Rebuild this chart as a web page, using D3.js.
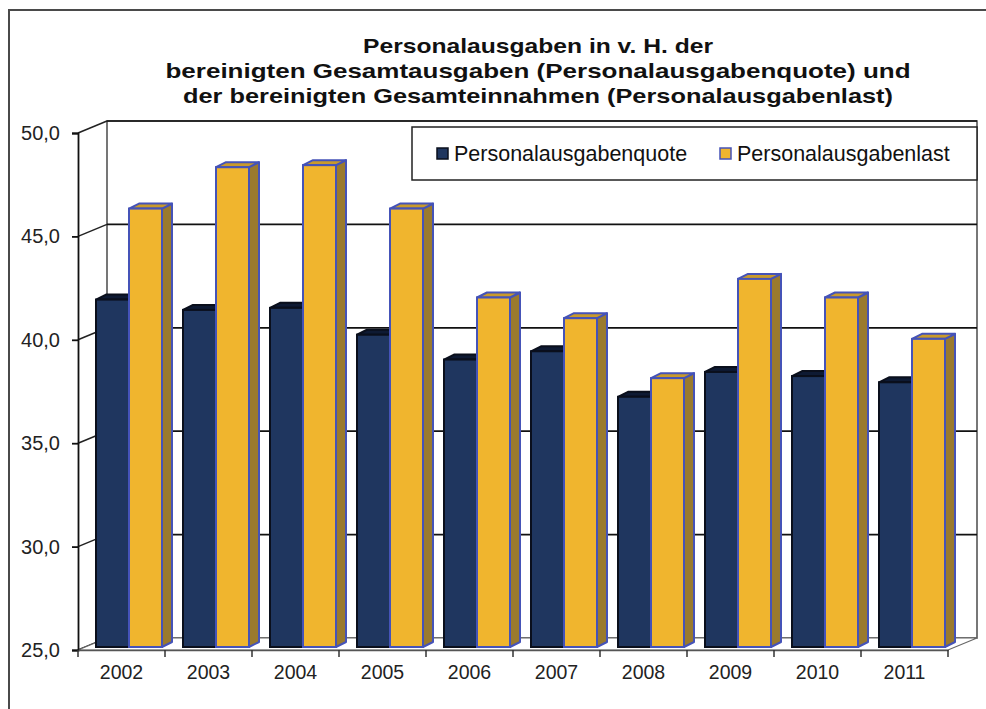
<!DOCTYPE html>
<html>
<head>
<meta charset="utf-8">
<script src="https://cdn.jsdelivr.net/npm/d3@7"></script>
<style>
	body { margin: 0; background: #fff; }
	svg { display: block; font-family: "Liberation Sans", Arial, sans-serif; }
</style>
</head>
<body>
<div id="chart"></div>
<script>
const years = ["2002", "2003", "2004", "2005", "2006", "2007", "2008", "2009", "2010", "2011"];
const seriesNames = ["Personalausgabenquote", "Personalausgabenlast"];
const quote = [41.8, 41.3, 41.4, 40.1, 38.9, 39.3, 37.1, 38.3, 38.1, 37.8];
const last  = [46.2, 48.2, 48.3, 46.2, 41.9, 40.9, 38.0, 42.8, 41.9, 39.9];
const yTicks = [25, 30, 35, 40, 45, 50];
const titleLines = [
	"Personalausgaben in v. H. der",
	"bereinigten Gesamtausgaben (Personalausgabenquote) und",
	"der bereinigten Gesamteinnahmen (Personalausgabenlast)"
];
const titleWidths = [350, 745, 710];

const W = 986, H = 709;
// wall depth and bar depth (oblique 3d look)
const WX = 29, WY = -12;
const BY = -3;
const DX = 10, DY = -5;

const colors = {
	quote: { front: "#1f365f", top: "#0e1a33", side: "#142645", stroke: "#0a0f1c" },
	last:  { front: "#f0b52e", top: "#c99a2b", side: "#9a7a2e", stroke: "#4553b8" }
};

const svg = d3.select("#chart").append("svg")
	.attr("width", W)
	.attr("height", H);

// outer frame (only top and left visible)
svg.append("path")
	.attr("d", "M9," + H + "V10H" + W)
	.attr("fill", "none")
	.attr("stroke", "#4a4a4a")
	.attr("stroke-width", 2);

const y = d3.scaleLinear().domain([25, 50]).range([650, 133]);
const x0 = d3.scaleBand().domain(years).range([78, 948]);
const x1 = d3.scaleBand().domain(seriesNames).range([18, 84]);

const left = x0.range()[0], right = x0.range()[1];

// back wall
svg.append("rect")
	.attr("x", left + WX)
	.attr("y", y(50) + WY)
	.attr("width", right - left)
	.attr("height", y(25) - y(50))
	.attr("fill", "#fff")
	.attr("stroke", "#555")
	.attr("stroke-width", 1.6);

// gridlines on back wall
svg.append("g")
	.selectAll("line")
	.data(yTicks.filter(t => t > 25))
	.join("line")
	.attr("x1", left + WX)
	.attr("x2", right + WX)
	.attr("y1", d => y(d) + WY)
	.attr("y2", d => y(d) + WY)
	.attr("stroke", "#111")
	.attr("stroke-width", 1.7);

// side wall diagonals
svg.append("g")
	.selectAll("line")
	.data(yTicks)
	.join("line")
	.attr("x1", left)
	.attr("x2", left + WX)
	.attr("y1", d => y(d))
	.attr("y2", d => y(d) + WY)
	.attr("stroke", "#222")
	.attr("stroke-width", 1.5);

// floor
svg.append("path")
	.attr("d", "M" + left + "," + y(25) + "L" + right + "," + y(25) +
		"L" + (right + WX) + "," + (y(25) + WY) + "L" + (left + WX) + "," + (y(25) + WY) + "Z")
	.attr("fill", "#fff")
	.attr("stroke", "#666")
	.attr("stroke-width", 1.2);

// bars
const rows = years.map((yr, i) => ({ year: yr, values: [
	{ key: seriesNames[0], v: quote[i], c: colors.quote },
	{ key: seriesNames[1], v: last[i], c: colors.last }
]}));

const groups = svg.append("g")
	.selectAll("g")
	.data(rows)
	.join("g")
	.attr("transform", d => "translate(" + x0(d.year) + ",0)");

const bars = groups.selectAll("g")
	.data(d => d.values)
	.join("g");

bars.each(function(d) {
	let g = d3.select(this);
	let x = x1(d.key), w = x1.bandwidth();
	let yt = y(d.v) + BY, yb = y(25) + BY;
	g.append("path") // side
		.attr("d", "M" + (x + w) + "," + yt + "L" + (x + w + DX) + "," + (yt + DY) +
			"L" + (x + w + DX) + "," + (yb + DY) + "L" + (x + w) + "," + yb + "Z")
		.attr("fill", d.c.side)
		.attr("stroke", d.c.stroke)
		.attr("stroke-width", 2)
		.attr("stroke-linejoin", "round");
	g.append("path") // top
		.attr("d", "M" + x + "," + yt + "L" + (x + DX) + "," + (yt + DY) +
			"L" + (x + w + DX) + "," + (yt + DY) + "L" + (x + w) + "," + yt + "Z")
		.attr("fill", d.c.top)
		.attr("stroke", d.c.stroke)
		.attr("stroke-width", 2)
		.attr("stroke-linejoin", "round");
	g.append("rect") // front
		.attr("x", x)
		.attr("y", yt)
		.attr("width", w)
		.attr("height", yb - yt)
		.attr("fill", d.c.front)
		.attr("stroke", d.c.stroke)
		.attr("stroke-width", 2);
});

// front y axis
const yAxis = svg.append("g")
	.attr("transform", "translate(" + left + ",0)")
	.call(d3.axisLeft(y).tickValues(yTicks).tickSize(6).tickPadding(12)
		.tickFormat(d => d3.format(".1f")(d).replace(".", ",")));
yAxis.select(".domain").attr("stroke", "#111").attr("stroke-width", 1.8);
yAxis.selectAll(".tick line").attr("stroke", "#111").attr("stroke-width", 1.8);
yAxis.selectAll("text")
	.attr("font-size", 20)
	.attr("fill", "#222")
	.style("font-family", "'Liberation Sans', Arial, sans-serif");

// front x axis
const xAxis = svg.append("g")
	.attr("transform", "translate(0," + y(25) + ")")
	.call(d3.axisBottom(x0).tickSize(0).tickPadding(15));
xAxis.select(".domain").attr("stroke", "#555").attr("stroke-width", 1.5);
xAxis.selectAll("text")
	.attr("font-size", 19.5)
	.attr("fill", "#222")
	.style("font-family", "'Liberation Sans', Arial, sans-serif");

// ticks on category boundaries
svg.append("g")
	.selectAll("line")
	.data(d3.range(years.length + 1))
	.join("line")
	.attr("x1", i => left + i * x0.step())
	.attr("x2", i => left + i * x0.step())
	.attr("y1", y(25))
	.attr("y2", y(25) + 7)
	.attr("stroke", "#333")
	.attr("stroke-width", 1.5);

// title
svg.append("g")
	.selectAll("text")
	.data(titleLines)
	.join("text")
	.attr("x", 538)
	.attr("y", (d, i) => 53 + i * 25)
	.attr("text-anchor", "middle")
	.attr("font-size", 21)
	.attr("font-weight", "bold")
	.attr("fill", "#111")
	.attr("textLength", (d, i) => titleWidths[i])
	.attr("lengthAdjust", "spacingAndGlyphs")
	.text(d => d);

// legend
const legend = svg.append("g");
legend.append("rect")
	.attr("x", 412).attr("y", 127)
	.attr("width", 565).attr("height", 53)
	.attr("fill", "#fff")
	.attr("stroke", "#222")
	.attr("stroke-width", 1.5);

const legX = [437, 720];
const legItems = legend.selectAll("g.item")
	.data(seriesNames)
	.join("g")
	.attr("class", "item")
	.attr("transform", (d, i) => "translate(" + legX[i] + ",154)");
legItems.append("rect")
	.attr("x", 0).attr("y", -6)
	.attr("width", 11).attr("height", 11)
	.attr("fill", (d, i) => i == 0 ? colors.quote.front : colors.last.front)
	.attr("stroke", (d, i) => i == 0 ? colors.quote.stroke : colors.last.stroke)
	.attr("stroke-width", 1.5);
legItems.append("text")
	.attr("x", 17)
	.attr("y", 7)
	.attr("font-size", 21.5)
	.attr("fill", "#111")
	.text(d => d);
</script>
</body>
</html>
